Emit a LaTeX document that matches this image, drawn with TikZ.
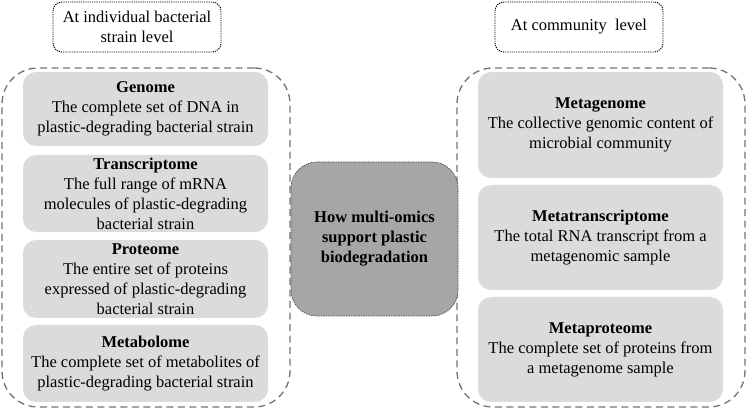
\documentclass[tikz,border=0pt]{standalone}
\usepackage{fontspec}
\setmainfont{Liberation Serif}
\begin{document}
\begin{tikzpicture}[x=1pt,y=-1pt,
  every node/.style={font=\fontsize{16.5}{20}\selectfont, align=center, inner sep=0pt},
  inner/.style={fill=black!14, rounded corners=13pt, minimum width=245pt},
  outer/.style={draw=black!55, dash pattern=on 7pt off 4.5pt, line width=1.3pt, rounded corners=36pt, minimum width=288pt, minimum height=339pt},
  lbl/.style={draw=black, dash pattern=on 1.2pt off 1pt, line width=0.9pt, rounded corners=9pt, minimum width=168pt, minimum height=50pt},
  hub/.style={fill=black!35, draw=black!70, dash pattern=on 1.5pt off 1pt, line width=0.7pt, rounded corners=26pt, minimum width=167pt, minimum height=154pt}
]
\useasboundingbox (0,0) rectangle (747,411);
% labels
\node[lbl] (lblL) at (137,27) {At individual bacterial\\strain level};
\node[lbl] (lblR) at (579,27) {At community\ \ level};
% outer dashed boxes
\node[outer] (outL) at (146,237.5) {};
\node[outer] (outR) at (601,237.5) {};
% left inner
\node[inner, minimum height=74pt] (genome) at (145.5,109) {\textbf{Genome}\\The complete set of DNA in\\plastic-degrading bacterial strain};
\node[inner, minimum height=77pt] (transcriptome) at (145.5,193.5) {\textbf{Transcriptome}\\The full range of mRNA\\molecules of plastic-degrading\\bacterial strain};
\node[inner, minimum height=78pt] (proteome) at (145.5,279) {\textbf{Proteome}\\The entire set of proteins\\expressed of plastic-degrading\\bacterial strain};
\node[inner, minimum height=77pt] (metabolome) at (145.5,363.5) {\textbf{Metabolome}\\The complete set of metabolites of\\plastic-degrading bacterial strain};
% right inner
\node[inner, minimum height=106pt] (metagenome) at (600.5,125) {\textbf{Metagenome}\\The collective genomic content of\\microbial community};
\node[inner, minimum height=105pt] (metatrans) at (600.5,237.5) {\textbf{Metatranscriptome}\\The total RNA transcript from a\\metagenomic sample};
\node[inner, minimum height=105pt] (metaprot) at (600.5,349.5) {\textbf{Metaproteome}\\The complete set of proteins from\\a metagenome sample};
% hub
\node[hub] (hub) at (374.5,239) {\textbf{How multi-omics}\\\textbf{support plastic}\\\textbf{biodegradation}};
\end{tikzpicture}
\end{document}
